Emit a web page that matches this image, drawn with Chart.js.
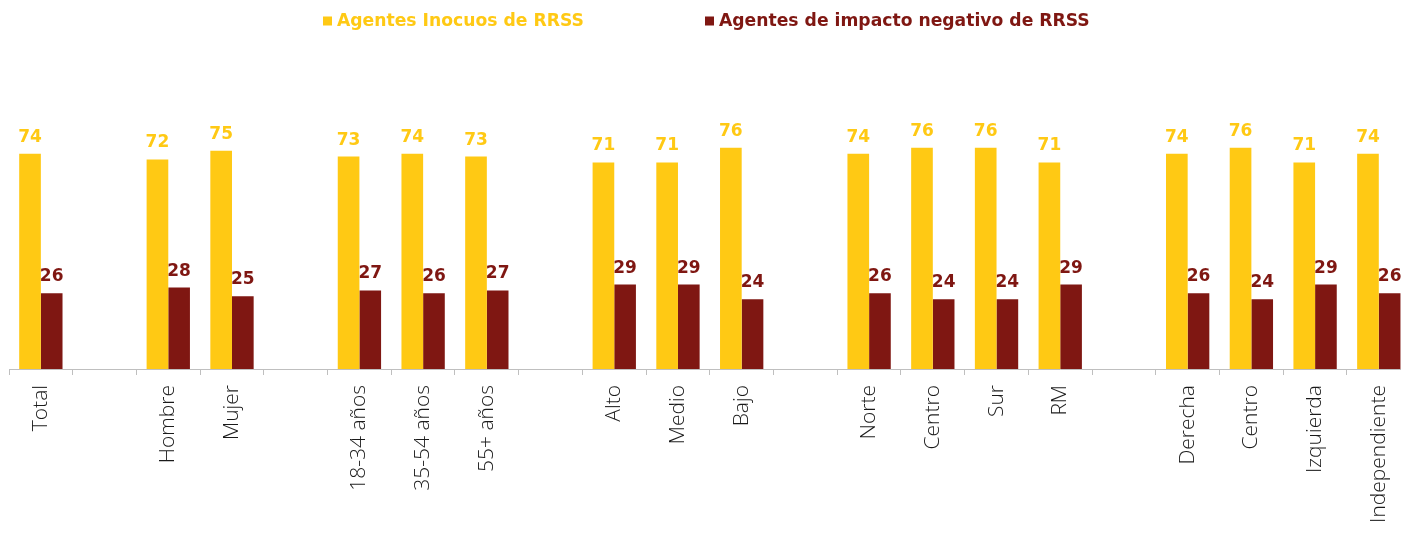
<!DOCTYPE html>
<html>
<head>
<meta charset="utf-8">
<script src="https://cdn.jsdelivr.net/npm/chart.js@4.4.1/dist/chart.umd.min.js"></script>
<style>
  html, body { margin: 0; padding: 0; background: #ffffff; overflow: hidden; }
  #wrap { position: relative; width: 1414px; height: 544px; }
</style>
</head>
<body>
<div id="wrap"><canvas id="c" width="1414" height="544"></canvas></div>
<script>
// ---- data ----
const categories = ['Total', '', 'Hombre', 'Mujer', '', '18-34 años', '35-54 años', '55+ años', '',
  'Alto', 'Medio', 'Bajo', '', 'Norte', 'Centro', 'Sur', 'RM', '',
  'Derecha', 'Centro', 'Izquierda', 'Independiente'];
const seriesNames = ['Agentes Inocuos de RRSS', 'Agentes de impacto negativo de RRSS'];
const inocuos = [74, null, 72, 75, null, 73, 74, 73, null, 71, 71, 76, null, 74, 76, 76, 71, null, 74, 76, 71, 74];
const negativos = [26, null, 28, 25, null, 27, 26, 27, null, 29, 29, 24, null, 26, 24, 24, 29, null, 26, 24, 29, 26];

const YELLOW = '#FFC914';
const RED = '#7F1712';

const valueLabels = {
  id: 'valueLabels',
  afterDatasetsDraw(chart, args, opts) {
    const ctx = chart.ctx;
    ctx.save();
    ctx.font = opts.font;
    ctx.textAlign = 'center';
    ctx.textBaseline = 'alphabetic';
    chart.data.datasets.forEach((ds, i) => {
      const meta = chart.getDatasetMeta(i);
      ctx.fillStyle = ds.labelColor;
      meta.data.forEach((el, j) => {
        const v = ds.data[j];
        if (v === null || v === undefined) return;
        ctx.fillText(String(v), el.x, el.y - opts.offset);
      });
    });
    ctx.restore();
  }
};

const customLegend = {
  id: 'customLegend',
  afterDraw(chart, args, opts) {
    const ctx = chart.ctx;
    ctx.save();
    ctx.font = opts.font;
    ctx.textBaseline = 'middle';
    ctx.textAlign = 'left';
    chart.data.datasets.forEach((ds, i) => {
      const x = opts.x[i];
      ctx.fillStyle = ds.backgroundColor;
      ctx.fillRect(x, opts.y - opts.box / 2, opts.box, opts.box);
      ctx.fillStyle = ds.labelColor;
      ctx.fillText(ds.label, x + opts.box + opts.gap, opts.y + 1);
    });
    ctx.restore();
  }
};

new Chart(document.getElementById('c'), {
  type: 'bar',
  data: {
    labels: categories,
    datasets: [
      { label: seriesNames[0], data: inocuos, backgroundColor: YELLOW, labelColor: YELLOW,
        categoryPercentage: 0.68, barPercentage: 1.0 },
      { label: seriesNames[1], data: negativos, backgroundColor: RED, labelColor: RED,
        categoryPercentage: 0.68, barPercentage: 1.0 }
    ]
  },
  options: {
    responsive: false,
    animation: false,
    devicePixelRatio: 1,
    layout: { padding: { left: 9, right: 0, top: 78, bottom: 0 } },
    plugins: {
      legend: { display: false },
      tooltip: { enabled: false },
      valueLabels: { font: 'bold 17px "DejaVu Sans"', offset: 12 },
      customLegend: { font: 'bold 17.2px "DejaVu Sans"', x: [323, 705], y: 21, box: 9, gap: 5 }
    },
    scales: {
      x: {
        offset: true,
        grid: { display: true, drawOnChartArea: false, drawTicks: true, tickLength: 6, color: '#BFBFBF', offset: true },
        border: { display: true, color: '#BFBFBF', width: 1 },
        ticks: {
          autoSkip: false, maxRotation: 90, minRotation: 90, padding: 10,
          color: '#1a1a1a', font: { family: 'Open Sans', size: 21, weight: 300 }
        },
        afterFit(scale) { scale.height = 175; }
      },
      y: {
        display: false, min: 0, max: 100
      }
    }
  },
  plugins: [valueLabels, customLegend]
});
</script>
</body>
</html>
